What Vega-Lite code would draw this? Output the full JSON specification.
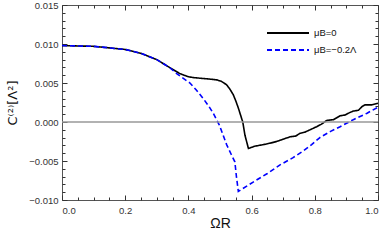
{
  "$schema": "https://vega.github.io/schema/vega-lite/v6.json",
  "width": 316,
  "height": 195,
  "autosize": {"type": "none"},
  "padding": {"left": 62, "top": 5, "right": 8, "bottom": 42},
  "background": "white",
  "config": {
    "view": {"stroke": "#555555", "strokeWidth": 1},
    "font": "Liberation Sans",
    "axis": {"domain": false, "grid": false, "labelFont": "Liberation Sans", "labelFontSize": 9.5, "labelColor": "#333333", "tickColor": "#333333", "titleFont": "Liberation Sans", "titleFontWeight": "normal", "titleColor": "#111111", "titleFontSize": 14}
  },
  "data": {"values": [
      {"x": 0.00, "y": 0.0098, "s": "μB=0"},
      {"x": 0.05, "y": 0.00975, "s": "μB=0"},
      {"x": 0.10, "y": 0.0097, "s": "μB=0"},
      {"x": 0.15, "y": 0.0095, "s": "μB=0"},
      {"x": 0.20, "y": 0.0093, "s": "μB=0"},
      {"x": 0.25, "y": 0.0088, "s": "μB=0"},
      {"x": 0.30, "y": 0.0080, "s": "μB=0"},
      {"x": 0.34, "y": 0.0070, "s": "μB=0"},
      {"x": 0.373, "y": 0.0062, "s": "μB=0"},
      {"x": 0.40, "y": 0.0058, "s": "μB=0"},
      {"x": 0.415, "y": 0.0057, "s": "μB=0"},
      {"x": 0.44, "y": 0.0056, "s": "μB=0"},
      {"x": 0.468, "y": 0.0055, "s": "μB=0"},
      {"x": 0.49, "y": 0.0054, "s": "μB=0"},
      {"x": 0.505, "y": 0.0052, "s": "μB=0"},
      {"x": 0.52, "y": 0.0048, "s": "μB=0"},
      {"x": 0.53, "y": 0.0043, "s": "μB=0"},
      {"x": 0.542, "y": 0.0035, "s": "μB=0"},
      {"x": 0.55, "y": 0.0027, "s": "μB=0"},
      {"x": 0.558, "y": 0.0018, "s": "μB=0"},
      {"x": 0.565, "y": 0.0009, "s": "μB=0"},
      {"x": 0.572, "y": 0.0000, "s": "μB=0"},
      {"x": 0.579, "y": -0.0017, "s": "μB=0"},
      {"x": 0.590, "y": -0.0034, "s": "μB=0"},
      {"x": 0.61, "y": -0.0031, "s": "μB=0"},
      {"x": 0.637, "y": -0.0029, "s": "μB=0"},
      {"x": 0.66, "y": -0.0027, "s": "μB=0"},
      {"x": 0.679, "y": -0.0025, "s": "μB=0"},
      {"x": 0.70, "y": -0.0022, "s": "μB=0"},
      {"x": 0.722, "y": -0.0019, "s": "μB=0"},
      {"x": 0.74, "y": -0.0018, "s": "μB=0"},
      {"x": 0.753, "y": -0.00145, "s": "μB=0"},
      {"x": 0.769, "y": -0.0013, "s": "μB=0"},
      {"x": 0.79, "y": -0.0009, "s": "μB=0"},
      {"x": 0.806, "y": -0.0006, "s": "μB=0"},
      {"x": 0.82, "y": -0.0003, "s": "μB=0"},
      {"x": 0.838, "y": 0.0002, "s": "μB=0"},
      {"x": 0.859, "y": 0.0003, "s": "μB=0"},
      {"x": 0.88, "y": 0.0008, "s": "μB=0"},
      {"x": 0.896, "y": 0.0009, "s": "μB=0"},
      {"x": 0.91, "y": 0.0012, "s": "μB=0"},
      {"x": 0.922, "y": 0.0014, "s": "μB=0"},
      {"x": 0.938, "y": 0.0015, "s": "μB=0"},
      {"x": 0.95, "y": 0.0020, "s": "μB=0"},
      {"x": 0.959, "y": 0.0022, "s": "μB=0"},
      {"x": 0.98, "y": 0.0022, "s": "μB=0"},
      {"x": 1.00, "y": 0.0024, "s": "μB=0"},
      {"x": 0.00, "y": 0.0098, "s": "μB=−0.2Λ"},
      {"x": 0.05, "y": 0.00975, "s": "μB=−0.2Λ"},
      {"x": 0.10, "y": 0.0097, "s": "μB=−0.2Λ"},
      {"x": 0.15, "y": 0.0095, "s": "μB=−0.2Λ"},
      {"x": 0.20, "y": 0.0093, "s": "μB=−0.2Λ"},
      {"x": 0.25, "y": 0.0088, "s": "μB=−0.2Λ"},
      {"x": 0.30, "y": 0.0080, "s": "μB=−0.2Λ"},
      {"x": 0.34, "y": 0.0070, "s": "μB=−0.2Λ"},
      {"x": 0.363, "y": 0.0062, "s": "μB=−0.2Λ"},
      {"x": 0.38, "y": 0.0057, "s": "μB=−0.2Λ"},
      {"x": 0.405, "y": 0.0050, "s": "μB=−0.2Λ"},
      {"x": 0.425, "y": 0.0041, "s": "μB=−0.2Λ"},
      {"x": 0.447, "y": 0.0030, "s": "μB=−0.2Λ"},
      {"x": 0.465, "y": 0.0020, "s": "μB=−0.2Λ"},
      {"x": 0.479, "y": 0.0011, "s": "μB=−0.2Λ"},
      {"x": 0.498, "y": -0.0004, "s": "μB=−0.2Λ"},
      {"x": 0.51, "y": -0.0017, "s": "μB=−0.2Λ"},
      {"x": 0.521, "y": -0.0029, "s": "μB=−0.2Λ"},
      {"x": 0.535, "y": -0.0041, "s": "μB=−0.2Λ"},
      {"x": 0.547, "y": -0.0051, "s": "μB=−0.2Λ"},
      {"x": 0.552, "y": -0.0070, "s": "μB=−0.2Λ"},
      {"x": 0.558, "y": -0.0089, "s": "μB=−0.2Λ"},
      {"x": 0.605, "y": -0.0077, "s": "μB=−0.2Λ"},
      {"x": 0.65, "y": -0.0066, "s": "μB=−0.2Λ"},
      {"x": 0.69, "y": -0.0055, "s": "μB=−0.2Λ"},
      {"x": 0.73, "y": -0.0046, "s": "μB=−0.2Λ"},
      {"x": 0.764, "y": -0.0037, "s": "μB=−0.2Λ"},
      {"x": 0.79, "y": -0.0029, "s": "μB=−0.2Λ"},
      {"x": 0.816, "y": -0.0020, "s": "μB=−0.2Λ"},
      {"x": 0.85, "y": -0.0012, "s": "μB=−0.2Λ"},
      {"x": 0.88, "y": -0.0006, "s": "μB=−0.2Λ"},
      {"x": 0.922, "y": 0.0003, "s": "μB=−0.2Λ"},
      {"x": 0.964, "y": 0.0011, "s": "μB=−0.2Λ"},
      {"x": 1.00, "y": 0.0019, "s": "μB=−0.2Λ"}
  ]},
  "resolve": {"axis": {"x": "independent", "y": "independent"}},
  "layer": [
    {
      "mark": {"type": "line", "strokeWidth": 1.6},
      "encoding": {
        "x": {"field": "x", "type": "quantitative", "scale": {"domain": [0, 1], "nice": false, "zero": false},
          "axis": {"orient": "bottom", "title": "ΩR", "values": [0, 0.2, 0.4, 0.6, 0.8, 1], "format": ".1f", "ticks": false, "labelPadding": 5, "titlePadding": 2}},
        "y": {"field": "y", "type": "quantitative", "scale": {"domain": [-0.01, 0.015], "nice": false, "zero": false},
          "axis": {"orient": "left", "title": "C⁽²⁾[Λ²]", "titleFont": "DejaVu Sans", "titleFontSize": 13, "values": [-0.01, -0.005, 0, 0.005, 0.01, 0.015], "format": ".3f", "ticks": false, "labelPadding": 4, "titlePadding": 9}},
        "color": {"field": "s", "type": "nominal", "scale": {"domain": ["μB=0", "μB=−0.2Λ"], "range": ["#000000", "#0000ff"]},
          "legend": {"title": null, "orient": "none", "legendX": 218, "legendY": 20, "symbolType": "M-3,0H3", "symbolSize": 196, "symbolStrokeWidth": 1.8, "labelFontSize": 9.5, "labelFont": "Liberation Sans", "labelColor": "#111111", "labelOffset": 18, "padding": 0, "rowPadding": 4}},
        "strokeDash": {"field": "s", "type": "nominal", "scale": {"domain": ["μB=0", "μB=−0.2Λ"], "range": [[1, 0], [5, 3]]}, "legend": null}
      }
    },
    {
      "mark": {"type": "point", "opacity": 0, "size": 0},
      "encoding": {
        "x": {"field": "x", "type": "quantitative", "axis": {"orient": "bottom", "title": null, "labels": false, "tickCount": 100, "values": [0, 0.2, 0.4, 0.6, 0.8, 1], "tickSize": -5}},
        "y": {"field": "y", "type": "quantitative", "axis": {"orient": "left", "title": null, "labels": false, "tickCount": 100, "values": [-0.01, -0.005, 0, 0.005, 0.01, 0.015], "tickSize": -5}}
      }
    },
    {
      "mark": {"type": "point", "opacity": 0, "size": 0},
      "encoding": {
        "x": {"field": "x", "type": "quantitative", "axis": {"orient": "bottom", "title": null, "labels": false, "tickCount": 100, "values": [0.05, 0.1, 0.15, 0.25, 0.3, 0.35, 0.45, 0.5, 0.55, 0.65, 0.7, 0.75, 0.85, 0.9, 0.95], "tickSize": -3}},
        "y": {"field": "y", "type": "quantitative", "axis": {"orient": "left", "title": null, "labels": false, "tickCount": 100, "values": [-0.009, -0.008, -0.007, -0.006, -0.004, -0.003, -0.002, -0.001, 0.001, 0.002, 0.003, 0.004, 0.006, 0.007, 0.008, 0.009, 0.011, 0.012, 0.013, 0.014], "tickSize": -3}}
      }
    },
    {
      "mark": {"type": "point", "opacity": 0, "size": 0},
      "encoding": {
        "x": {"field": "x", "type": "quantitative", "axis": {"orient": "top", "title": null, "labels": false, "tickCount": 100, "values": [0, 0.2, 0.4, 0.6, 0.8, 1], "tickSize": -5}},
        "y": {"field": "y", "type": "quantitative", "axis": {"orient": "right", "title": null, "labels": false, "tickCount": 100, "values": [-0.01, -0.005, 0, 0.005, 0.01, 0.015], "tickSize": -5}}
      }
    },
    {
      "mark": {"type": "point", "opacity": 0, "size": 0},
      "encoding": {
        "x": {"field": "x", "type": "quantitative", "axis": {"orient": "top", "title": null, "labels": false, "tickCount": 100, "values": [0.05, 0.1, 0.15, 0.25, 0.3, 0.35, 0.45, 0.5, 0.55, 0.65, 0.7, 0.75, 0.85, 0.9, 0.95], "tickSize": -3}},
        "y": {"field": "y", "type": "quantitative", "axis": {"orient": "right", "title": null, "labels": false, "tickCount": 100, "values": [-0.009, -0.008, -0.007, -0.006, -0.004, -0.003, -0.002, -0.001, 0.001, 0.002, 0.003, 0.004, 0.006, 0.007, 0.008, 0.009, 0.011, 0.012, 0.013, 0.014], "tickSize": -3}}
      }
    },
    {
      "data": {"values": [{"z": 0}]},
      "mark": {"type": "rule", "color": "#999999", "strokeWidth": 1.3},
      "encoding": {
        "y": {"field": "z", "type": "quantitative", "axis": null}
      }
    }
  ]
}
